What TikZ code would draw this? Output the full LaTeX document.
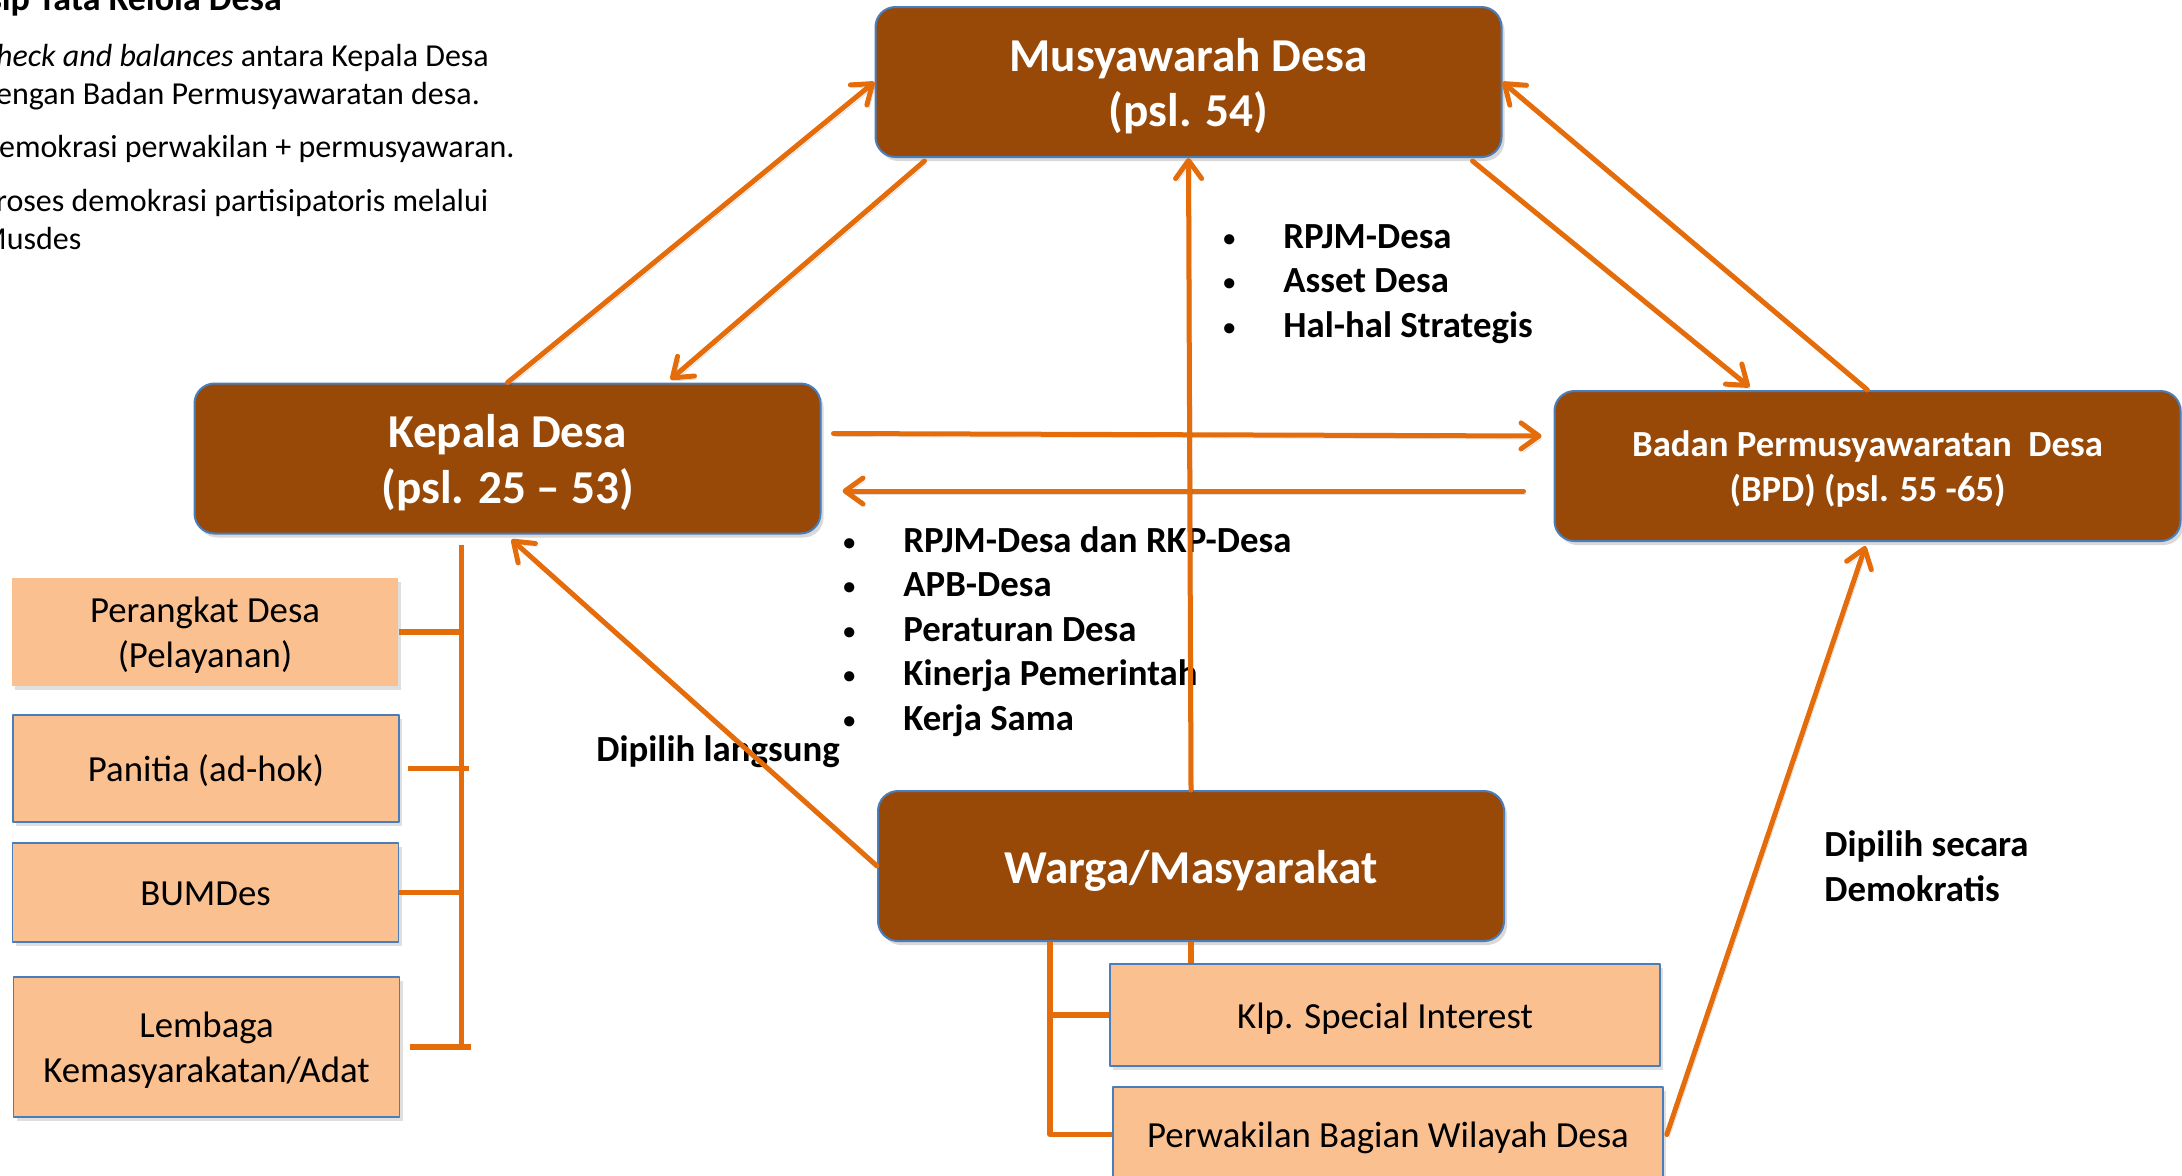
\documentclass[tikz,border=0pt]{standalone}
\usepackage{fontspec}
\setmainfont{Carlito}
\usetikzlibrary{arrows.meta,calc,shadows}
\definecolor{oranye}{HTML}{E46C0A}
\definecolor{coklat}{HTML}{984807}
\definecolor{krem}{HTML}{FAC090}
\definecolor{biru}{HTML}{4A7EBB}
\newcommand{\butir}{\makebox[30pt][l]{\raisebox{1pt}{\fontsize{12}{12}\selectfont•}}}
\newcommand{\tegak}{\rule[-0.22em]{0pt}{1.16em}}
\begin{document}
\begin{tikzpicture}[x=0.5pt,y=-0.5pt,line join=round,
	>={Straight Barb[length=9pt,width=13pt,round]},
	kotak/.style={draw=biru,line width=1pt,fill=coklat,rounded corners=10pt,text=white,
		font=\bfseries\fontsize{23.6}{27.8}\selectfont,align=center,
		minimum width=313pt,minimum height=75pt,inner sep=0pt,
		drop shadow={shadow xshift=1.5pt,shadow yshift=-2pt,opacity=.3}},
	subkotak/.style={draw=biru,line width=.8pt,fill=krem,
		font=\fontsize{18.4}{22.3}\selectfont,align=center,
		minimum width=193pt,inner sep=0pt,
		drop shadow={shadow xshift=1.5pt,shadow yshift=-2pt,opacity=.25}},
	butirteks/.style={anchor=base west,inner sep=0pt,font=\bfseries\fontsize{18.4}{22.3}\selectfont},
	panah/.style={->,draw=oranye,line width=2.5pt,line cap=round,
		preaction={draw=black,opacity=.12,transform canvas={xshift=1.2pt,yshift=-1.5pt}}},
	garis/.style={draw=oranye,line width=2.7pt}]
	\useasboundingbox (0,0) rectangle (2182,1175);
	\clip (0,0) rectangle (2182,1175);
	% teks pojok kiri atas
	\node[anchor=base west,inner sep=0pt,font=\bfseries\fontsize{18}{22}\selectfont] (judul) at (-73,10) {Prinsip Tata Kelola Desa};
	\foreach \y/\t [count=\i] in {66/{\itshape Check and balances} antara Kepala Desa,
		104/dengan Badan Permusyawaratan desa.,
		157/Demokrasi perwakilan + permusyawaran.,
		211/Proses demokrasi partisipatoris melalui,
		249/Musdes}
	\node[anchor=base west,inner sep=0pt,font=\fontsize{16}{19}\selectfont] (catatan\i) at (-21,\y) {\t};
	% kotak utama
	\node[kotak] (musdes) at (1188.5,82) {\tegak Musyawarah Desa\\\tegak(psl. 54)};
	\node[kotak] (kades) at (507.5,458.5) {\tegak Kepala Desa\\\tegak(psl. 25 -- 53)};
	\node[kotak,font=\bfseries\fontsize{18.4}{22.3}\selectfont] (bpd) at (1867.5,466) {\tegak Badan Permusyawaratan~ Desa\\\tegak(BPD) (psl. 55 -65)};
	\node[kotak] (warga) at (1191,866) {\tegak Warga/Masyarakat};
	% kotak bawahan
	\node[subkotak,draw=none,minimum height=54pt] (perangkat) at (205,632) {\tegak Perangkat Desa\\\tegak(Pelayanan)};
	\node[subkotak,minimum height=53.5pt] (panitia) at (206,768.5) {\tegak Panitia (ad-hok)};
	\node[subkotak,minimum height=49.5pt] (bumdes) at (205.5,892.5) {\tegak BUMDes};
	\node[subkotak,minimum height=70pt] (lembaga) at (206.5,1047) {\tegak Lembaga\\\tegak Kemasyarakatan/Adat};
	\node[subkotak,minimum width=275pt,minimum height=51pt] (klp) at (1385,1015) {\tegak Klp. Special Interest};
	\node[subkotak,minimum width=275pt,minimum height=47.5pt] (perwakilan) at (1388,1134.5) {\tegak Perwakilan Bagian Wilayah Desa};
	% daftar isi
	\foreach \t [count=\i] in {RPJM-Desa, Asset Desa, Hal-hal Strategis}
	\node[butirteks] (strategis\i) at (1223,{248+44.5*(\i-1)}) {\butir\t};
	\foreach \t [count=\i] in {RPJM-Desa dan RKP-Desa, APB-Desa, Peraturan Desa, Kinerja Pemerintah, Kerja Sama}
	\node[butirteks] (isu\i) at (843,{552+44.5*(\i-1)}) {\butir\t};
	\node[butirteks] (langsung) at (596,761) {Dipilih langsung};
	\node[anchor=west,inner sep=0pt,align=left,font=\bfseries\fontsize{18.4}{22.3}\selectfont] (demokratis) at (1824,866) {Dipilih secara\\Demokratis};
	% panah
	\draw[panah] (kades.north) -- (musdes.west);
	\draw[panah] ($(musdes.south west)+(50,3)$) -- ($(kades.north)+(163,-3)$);
	\draw[panah] ($(musdes.south east)+(-30,3)$) -- ($(bpd.north)+(-118,-3)$);
	\draw[panah] (bpd.north) -- (musdes.east);
	\draw[panah] ($(kades.east)+(12,-25)$) -- ($(bpd.west)+(-12,-30)$);
	\draw[panah] ($(bpd.west)+(-30,25)$) -- ($(kades.east)+(21,32.5)$);
	\draw[panah] (warga.north) -- (musdes.south);
	\draw[panah] (warga.west) -- ($(kades.south)+(4,5)$);
	\draw[panah] ($(perwakilan.east)+(3,0)$) -- ($(bpd.south)+(-2,4)$);
	% garis cabang
	\coordinate (kbar) at ($(kades.south west)+(268,10)$);
	\draw[garis] (kbar) -- (kbar |- lembaga.east);
	\draw[garis] (perangkat.east) -- (perangkat.east -| kbar);
	\draw[garis] ($(panitia.east)+(8,0)$) -- ($(panitia.east -| kbar)+(7,0)$);
	\draw[garis] (bumdes.east) -- (bumdes.east -| kbar);
	\draw[garis] ($(lembaga.east)+(10,0)$) -- ($(lembaga.east -| kbar)+(9,0)$);
	\coordinate (wbar) at ($(warga.south west)+(173,0)$);
	\draw[garis] (wbar) -- (wbar |- perwakilan.west) -- (perwakilan.west);
	\draw[garis] (wbar |- klp.west) -- (klp.west);
	\draw[garis] (warga.south) -- (warga.south |- klp.north);
\end{tikzpicture}
\end{document}
